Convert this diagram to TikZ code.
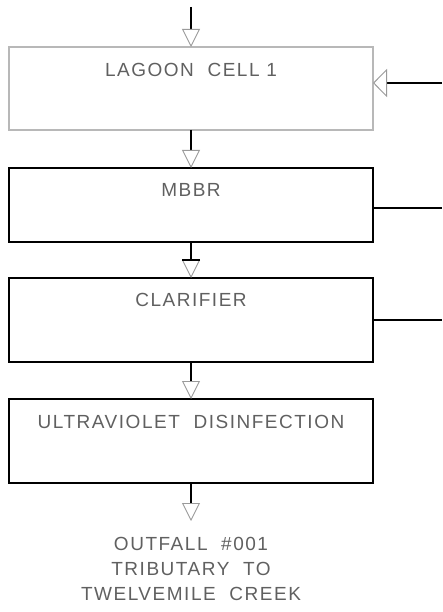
\documentclass[tikz,border=0pt]{standalone}
\usepackage{fontspec}
\setmainfont{Liberation Sans}[LetterSpace=8]
\usetikzlibrary{arrows.meta}
\definecolor{txtgray}{HTML}{606060}
\definecolor{tipgray}{HTML}{9A9A9A}
\definecolor{boxgray}{HTML}{B8B8B8}
\tikzset{
  box/.style={draw=black, line width=1.3pt, minimum width=364pt, minimum height=84pt, inner sep=0pt, outer sep=0pt},
  graybox/.style={box, draw=boxgray, line width=1.2pt, minimum height=83pt},
  lbl/.style={text=txtgray, font=\fontsize{19}{25}\selectfont, inner sep=0pt, anchor=center},
  flow/.style={line width=1.1pt, -{Triangle[open, length=18pt, width=18pt, line width=0.9pt, color=tipgray]}},
  sideflow/.style={line width=1.1pt, -{Triangle[open, length=14pt, width=28pt, line width=0.9pt, color=tipgray]}},
  sideline/.style={line width=1.1pt}
}
\begin{document}
\begin{tikzpicture}[x=1pt, y=-1pt]
\useasboundingbox (0,0) rectangle (442,612);
% boxes
\node[graybox] (b1) at (191,88.5) {};
\node[box, minimum height=74pt] (b2) at (191,205) {};
\node[box] (b3) at (191,320) {};
\node[box] (b4) at (191,441) {};
% labels
\node[lbl] (t1) at (191,70) {LAGOON\ \ CELL\ 1};
\node[lbl] (t2) at (191,190) {MBBR};
\node[lbl] (t3) at (191,300) {CLARIFIER};
\node[lbl] (t4) at (191,422) {ULTRAVIOLET\ \ DISINFECTION};
\node[lbl, align=center, font=\fontsize{19}{25}\selectfont] (out) at (191,569) {OUTFALL\ \ \#001\\TRIBUTARY\ \ TO\\TWELVEMILE\ \ CREEK};
% free ends
\coordinate (in) at (191,7);
\coordinate (rin) at (442,83);
\coordinate (r2) at (442,208);
\coordinate (r3) at (442,320);
% connectors
\draw[flow] (in) -- (b1.north);
\draw[sideflow] (rin) -- (b1.east |- rin);
\draw[flow] (b1.south) -- (b2.north);
\draw[flow] (b2.south) -- (b3.north);
\draw[line width=1.1pt] ([xshift=-9pt,yshift=18pt]b3.north) -- ([xshift=9pt,yshift=18pt]b3.north);
\draw[flow] (b3.south) -- (b4.north);
\draw[flow] (b4.south) -- ([yshift=-38pt]b4.south) coordinate (otip);
\draw[sideline] (b2.east |- r2) -- (r2);
\draw[sideline] (b3.east |- r3) -- (r3);
\end{tikzpicture}
\end{document}
